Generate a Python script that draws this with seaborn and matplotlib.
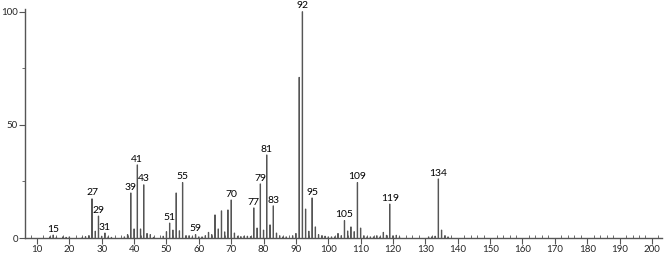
import matplotlib
matplotlib.use("Agg")
import matplotlib.pyplot as plt
import seaborn as sns
import pandas as pd
from matplotlib.ticker import MultipleLocator

mz = [14, 15, 16, 18, 19, 20, 24, 25, 26, 27, 28, 29, 30, 31, 32, 33, 37, 38, 39, 40,
      41, 42, 43, 44, 45, 46, 49, 50, 51, 52, 53, 54, 55, 56, 57, 58, 59, 60, 61, 62,
      63, 64, 65, 66, 67, 68, 69, 70, 71, 72, 73, 74, 75, 76, 77, 78, 79, 80, 81, 82,
      83, 84, 85, 86, 87, 89, 90, 91, 92, 93, 94, 95, 96, 97, 98, 99, 100, 101, 102, 103,
      104, 105, 106, 107, 108, 109, 110, 111, 112, 113, 114, 115, 116, 117, 118, 119, 120, 121, 122, 131,
      132, 133, 134, 135, 136, 137]
intensity = [0.5, 1.3, 0.3, 0.5, 0.3, 0.5, 0.3, 0.6, 1.0, 17.3, 3.0, 9.7, 0.8, 2.2, 0.5, 0.3, 0.5, 1.5, 19.9, 4.0,
             32.3, 4.0, 23.5, 2.0, 1.5, 0.3, 0.8, 2.8, 6.6, 3.5, 19.9, 3.2, 24.5, 1.0, 1.0, 0.5, 1.5, 0.5, 0.5, 1.0,
             2.5, 1.5, 10.2, 4.0, 12.0, 2.7, 12.4, 16.8, 2.2, 0.8, 0.6, 0.8, 0.8, 0.6, 13.3, 4.4, 23.9, 3.5, 36.7, 5.8,
             14.2, 2.2, 1.0, 0.5, 0.5, 1.0, 2.0, 71.0, 100.0, 12.8, 3.0, 17.7, 4.9, 1.5, 1.0, 0.8, 0.5, 0.5, 0.5, 2.0,
             1.0, 7.7, 3.1, 4.9, 2.8, 24.5, 4.4, 1.0, 0.5, 0.5, 0.5, 1.0, 0.5, 2.5, 1.2, 15.0, 1.0, 1.2, 0.5, 0.5,
             0.5, 0.8, 26.1, 3.5, 1.0, 0.5]
labeled = [15, 27, 29, 31, 39, 41, 43, 51, 55, 59, 70, 77, 79, 81, 83, 92, 95, 105, 109, 119, 134]

df = pd.DataFrame({"mz": mz, "intensity": intensity})

sns.set_style("white")
plt.rcParams['font.family'] = ['Lato', 'DejaVu Sans']

fig = plt.figure(figsize=(6.66, 2.54), dpi=100)
ax = fig.add_axes([25 / 666, 16 / 254, 637 / 666, 229 / 254])

sns.barplot(data=df, x="mz", y="intensity", native_scale=True, width=0.15,
            color="#555555", edgecolor="#555555", linewidth=0.7, saturation=1, ax=ax)
for p in ax.patches:
    p.set_snap(False)

lookup = dict(zip(mz, intensity))
for m in labeled:
    ax.text(m, lookup[m] + 0.6, str(m), ha="center", va="bottom", fontsize=7.5, color="black")

ax.set_xlim(6.3, 203.1)
ax.set_ylim(0, 101.2)
ax.set_xticks(range(10, 201, 10))
ax.xaxis.set_minor_locator(MultipleLocator(2))
ax.set_yticks([0, 50, 100])
ax.yaxis.set_minor_locator(MultipleLocator(25))
ax.set_xlabel("")
ax.set_ylabel("")
for s in ["top", "right"]:
    ax.spines[s].set_visible(False)
for s in ["left", "bottom"]:
    ax.spines[s].set_color("#555555")
    ax.spines[s].set_linewidth(1.0)
ax.tick_params(axis="x", which="major", direction="out", length=4, width=0.8, color="#555555",
               labelsize=7, pad=1)
ax.tick_params(axis="x", which="minor", direction="in", length=2, width=0.6, color="#555555")
ax.tick_params(axis="y", which="major", direction="out", length=4, width=0.8, color="#555555",
               labelsize=7, pad=1)
ax.tick_params(axis="y", which="minor", direction="out", length=2, width=0.6, color="#555555")
ax.tick_params(bottom=True, left=True)
ax.tick_params(which="minor", bottom=True, left=True)

fig.savefig("out.png", dpi=100)
